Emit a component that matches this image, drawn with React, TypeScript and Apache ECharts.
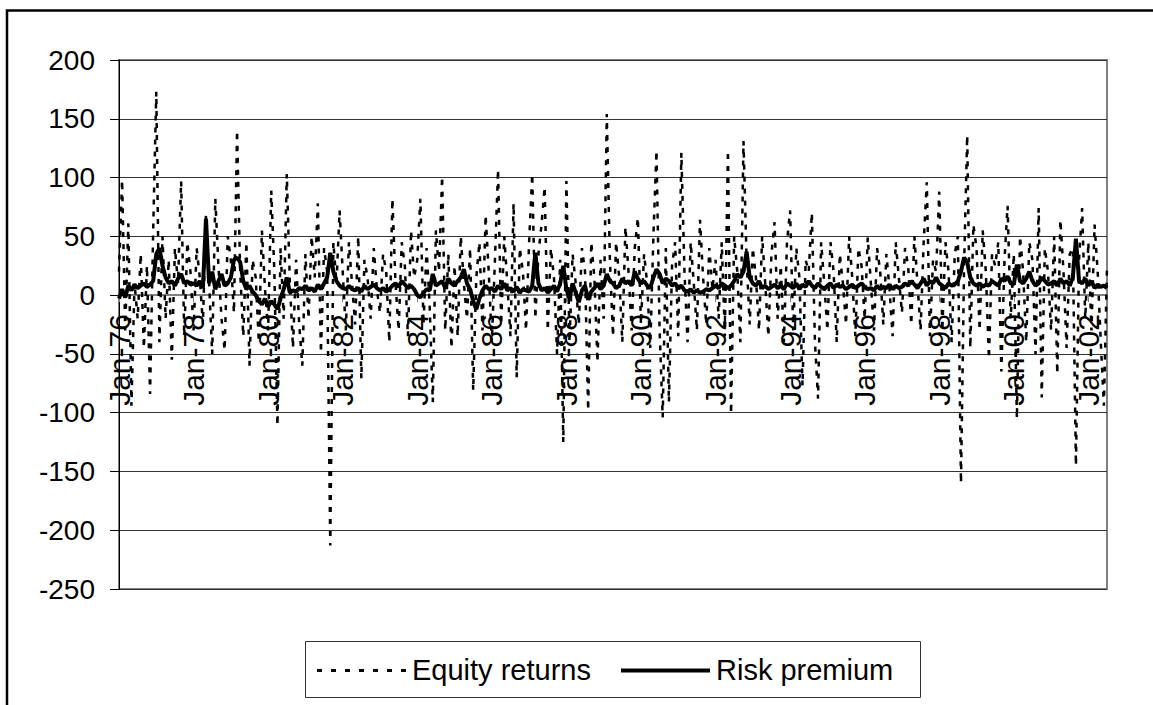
import React, { useEffect, useRef } from "react";
import * as echarts from "echarts";

const monthNames = ["Jan", "Feb", "Mar", "Apr", "May", "Jun", "Jul", "Aug", "Sep", "Oct", "Nov", "Dec"];
const yearLabels = ["76","77","78","79","80","81","82","83","84","85","86","87","88","89","90","91","92","93","94","95","96","97","98","99","00","01","02"];
const pointCount = 319;

const yTicks = { min: -250, max: 200, interval: 50 };
const seriesNames = ["Equity returns", "Risk premium"];

const equityReturns = [
  20, 98, -30, 61, -94, 10, -20, 35, -45, 25, -84, 55,
  173, -40, 50, -20, 30, -55, 40, 10, 97, -35, 45, 20,
  -30, 40, 15, -25, 68, 10, -50, 82, 25, -20, -47, 50,
  30, -15, 140, 20, -35, 45, -60, 30, 15, -40, 55, 5,
  -30, 89, 20, -111, 40, -20, 103, 10, -45, 30, -25, -60,
  35, -20, 50, 15, 78, -49, 40, 20, -213, 45, 10, 72,
  20, -30, 45, 10, -25, 50, -71, 30, 15, -20, 40, 5,
  -15, 35, 20, -40, 82, 10, -30, 45, 25, -35, 55, 15,
  30, 82, -25, 40, -10, -91, 55, 20, 101, -30, 35, -45,
  25, -35, 50, 10, -20, 40, -81, 15, 45, -30, 68, 20,
  -40, 30, 107, -25, 50, 10, -35, 78, -70, 40, 20, -30,
  45, 103, -20, 35, 60, 92, -30, 40, 15, -50, 30, -125,
  97, -40, 35, 10, -25, 40, 20, -98, 45, 15, -57, 30,
  -20, 154, 30, -35, 45, 15, -40, 58, 20, -30, 40, 66,
  -25, 35, 10, -45, 50, 123, -30, -104, 40, -91, 25, 45,
  -35, 121, 20, -40, 45, 10, -30, 64, 15, -25, 40, 5,
  30, -20, 45, -35, 123, -101, 50, 20, -40, 131, 30, -25,
  40, 15, -30, 50, 10, -35, 35, 62, -20, 25, -40, 45,
  72, -30, 40, 15, -77, 30, 20, 70, -40, -88, 45, 10,
  -30, 45, 20, -40, 35, 10, -25, 50, 15, -35, 40, 25,
  -20, 49, 10, -30, 40, 20, -25, 35, 5, -35, 45, 15,
  -15, 40, 25, -25, 50, 10, -30, 45, 96, -35, 30, 20,
  88, -30, 45, 20, -40, 35, 50, -160, 25, 136, -45, 60,
  40, -30, 55, 20, -54, 35, 25, 45, -65, 30, 76, -20,
  35, -105, 50, 20, -40, 45, 30, -50, 74, -87, 40, 20,
  -30, 50, -67, 64, 20, -45, 35, 40, -145, 30, 74, -20,
  45, -30, 60, 20, -40, -94, 25,
];

const riskPremium = [
  -3, 5, -2, 8, 4, 9, 6, 8, 10, 7, 9, 12,
  35, 40, 25, 15, 10, 12, 8, 14, 18, 10, 12, 9,
  10, 8, 12, 6, 65, 10, 20, 5, 12, 18, 8, 10,
  15, 30, 32, 28, 12, 5, 8, 3, 0, -5, -8, -3,
  -10, -5, -8, -12, -3, 5, 15, 2, 4, 3, 6, 5,
  8, 4, 6, 3, 9, 5, 10, 15, 36, 20, 12, 8,
  6, 5, 8, 5, 4, 6, 3, 8, 5, 7, 9, 6,
  4, 6, 3, 5, 8, 10, 7, 12, 9, 6, 8, 5,
  0, -2, 2, 5, 4, 18, 8, 10, 12, 6, 14, 10,
  8, 12, 15, 22, 10, 5, -5, -12, -3, 4, 8, 5,
  6, 3, 8, 5, 10, 4, 6, 3, 7, 2, 5, 4,
  3, 8, 36, 10, 4, 6, 2, 5, 8, 3, 10, 25,
  5, -3, 10, 2, -6, 4, 8, -4, 3, 6, 10, 5,
  8, 18, 12, 10, 6, 8, 14, 10, 12, 8, 20, 14,
  10, 12, 8, 6, 15, 22, 18, 10, 14, 12, 8, 10,
  6, 8, 4, 3, 5, 2, 4, 2, 3, 5, 4, 6,
  8, 6, 10, 8, 6, 8, 12, 18, 15, 20, 37, 15,
  10, 8, 12, 6, 8, 5, 7, 9, 6, 8, 5, 10,
  8, 6, 10, 5, 9, 7, 12, 8, 6, 10, 7, 5,
  8, 10, 6, 9, 7, 8, 5, 7, 9, 6, 8, 10,
  7, 5, 6, 4, 8, 5, 7, 6, 9, 5, 8, 6,
  7, 10, 8, 12, 9, 6, 10, 14, 8, 12, 10, 15,
  10, 8, 6, 10, 8, 9, 12, 20, 32, 28, 15, 10,
  8, 10, 7, 9, 8, 12, 10, 8, 14, 12, 16, 10,
  9, 26, 12, 10, 14, 20, 12, 8, 10, 15, 12, 9,
  10, 12, 8, 14, 10, 12, 8, 15, 48, 12, 10, 14,
  8, 12, 6, 9, 7, 8, 6,
];

const categories: string[] = [];
for (const y of yearLabels) {
  for (const m of monthNames) {
    if (categories.length < pointCount) categories.push(`${m}-${y}`);
  }
}

const FONT = "'Liberation Sans', Arial, sans-serif";

// plot geometry
const GRID_LEFT = 119;
const GRID_TOP = 60;
const GRID_RIGHT = 46;
const GRID_BOTTOM = 116;
const PLOT_H = 705 - GRID_TOP - GRID_BOTTOM;
const ZERO_FROM_BOTTOM = (PLOT_H * (0 - yTicks.min)) / (yTicks.max - yTicks.min);

export default function App() {
  const ref = useRef<HTMLDivElement>(null);
  useEffect(() => {
    if (!ref.current) return;
    const chart = echarts.init(ref.current, null, { renderer: "svg" });
    chart.setOption({
      animation: false,
      backgroundColor: "#ffffff",
      grid: {
        left: GRID_LEFT,
        top: GRID_TOP,
        right: GRID_RIGHT,
        bottom: GRID_BOTTOM,
        show: true,
        borderColor: "#808080",
        borderWidth: 2,
        containLabel: false,
        outerBoundsMode: "none",
      },
      xAxis: {
        type: "category",
        data: categories,
        boundaryGap: false,
        position: "bottom",
        offset: -ZERO_FROM_BOTTOM,
        axisLine: { onZero: false, lineStyle: { color: "#808080", width: 2 } },
        axisTick: { show: true, interval: 23, length: 7, lineStyle: { color: "#808080", width: 1 } },
        axisLabel: {
          interval: 23,
          rotate: 90,
          margin: 19,
          fontSize: 30,
          fontFamily: FONT,
          color: "#000",
        },
        splitLine: { show: false },
      },
      yAxis: {
        type: "value",
        min: yTicks.min,
        max: yTicks.max,
        interval: yTicks.interval,
        axisLine: { show: true, lineStyle: { color: "#000", width: 1 } },
        axisTick: { show: true, length: 9, lineStyle: { color: "#000", width: 1 } },
        axisLabel: { fontSize: 28, fontFamily: FONT, color: "#000", margin: 24 },
        splitLine: { show: true, lineStyle: { color: "#333", width: 1 } },
      },
      graphic: [
        {
          type: "rect",
          shape: { x: 7, y: 10.5, width: 1200, height: 800 },
          style: { fill: "none", stroke: "#000", lineWidth: 2.5 },
          silent: true,
        },
        {
          type: "group",
          silent: true,
          children: [
            {
              type: "rect",
              shape: { x: 305.5, y: 641.5, width: 615, height: 56 },
              style: { fill: "#fff", stroke: "#333", lineWidth: 1 },
            },
            {
              type: "line",
              shape: { x1: 317, y1: 670.5, x2: 406, y2: 670.5 },
              style: { stroke: "#000", lineWidth: 3, lineDash: [5, 9] },
            },
            {
              type: "text",
              x: 412,
              y: 670,
              style: {
                text: seriesNames[0],
                font: `29px ${FONT}`,
                fill: "#000",
                verticalAlign: "middle",
                align: "left",
              },
            },
            {
              type: "line",
              shape: { x1: 621, y1: 670.5, x2: 710, y2: 670.5 },
              style: { stroke: "#000", lineWidth: 4 },
            },
            {
              type: "text",
              x: 716,
              y: 670,
              style: {
                text: seriesNames[1],
                font: `29px ${FONT}`,
                fill: "#000",
                verticalAlign: "middle",
                align: "left",
              },
            },
          ],
        },
      ],
      series: [
        {
          name: seriesNames[0],
          type: "line",
          data: equityReturns,
          symbol: "none",
          showSymbol: false,
          lineStyle: { color: "#000", width: 2.5, type: [5, 7] },
          itemStyle: { color: "#000" },
          z: 2,
        },
        {
          name: seriesNames[1],
          type: "line",
          data: riskPremium,
          symbol: "none",
          showSymbol: false,
          lineStyle: { color: "#000", width: 4, type: "solid" },
          itemStyle: { color: "#000" },
          z: 3,
        },
      ],
    });
    return () => chart.dispose();
  }, []);
  return (
    <div
      ref={ref}
      style={{ position: "fixed", left: 0, top: 0, width: 1153, height: 705, background: "#fff" }}
    />
  );
}
